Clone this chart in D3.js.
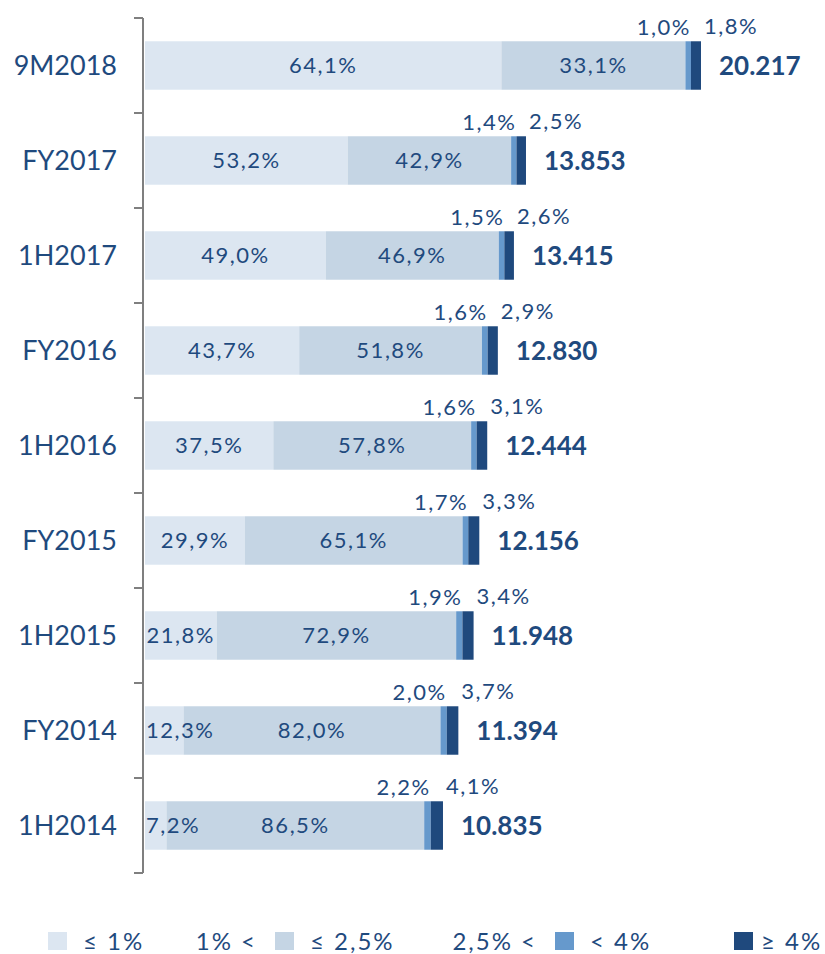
<!DOCTYPE html>
<html lang="en">
<head>
    <meta charset="UTF-8">
    <title>Breakdown by rate bucket</title>
    <script src="https://d3js.org/d3.v7.min.js"></script>
    <style>
        body { margin: 0; background: #fff; }
        svg text { font-family: Lato, "Open Sans", sans-serif; fill: #1f4a7e; }
        .pct { letter-spacing: 1.5px; }
        .legend text { letter-spacing: 2px; }
    </style>
</head>
<body>
<svg id="chart" width="825" height="954"></svg>

<script>
// values
const categories = ['9M2018', 'FY2017', '1H2017', 'FY2016', '1H2016', 'FY2015', '1H2015', 'FY2014', '1H2014'];
const totals = [20217, 13853, 13415, 12830, 12444, 12156, 11948, 11394, 10835];
const upTo1 = [64.1, 53.2, 49.0, 43.7, 37.5, 29.9, 21.8, 12.3, 7.2];
const upTo25 = [33.1, 42.9, 46.9, 51.8, 57.8, 65.1, 72.9, 82.0, 86.5];
const below4 = [1.0, 1.4, 1.5, 1.6, 1.6, 1.7, 1.9, 2.0, 2.2];
const from4 = [1.8, 2.5, 2.6, 2.9, 3.1, 3.3, 3.4, 3.7, 4.1];
const seriesNames = ['≤ 1%', '≤ 2,5%', '< 4%', '≥ 4%'];
const legendPrefix = ['', '1% <', '2,5% <', ''];
const colors = ['#dce6f1', '#c5d5e4', '#6699cc', '#1f497d'];

const svg = d3.select('#chart');
const fmtPct = v => v.toFixed(1).replace('.', ',') + '%';
const fmtTotal = v => d3.format(',')(v).replace(/,/g, '.');

const rows = categories.map((c, i) => {
    const pcts = [upTo1[i], upTo25[i], below4[i], from4[i]];
    let acc = 0;
    const segs = pcts.map((p, k) => {
        const v0 = acc;
        acc += p / 100 * totals[i];
        return { key: k, pct: p, v0: v0, v1: acc };
    });
    return { cat: c, total: totals[i], segs: segs };
});

const x = d3.scaleLinear()
    .domain([0, d3.max(totals)])
    .range([145, 701]);

const y = d3.scaleBand()
    .domain(categories)
    .range([18, 873])
    .paddingInner(0.49)
    .paddingOuter(0.245);

// axis line + ticks between the bands
const axisX = 143;
svg.append('line')
    .attr('x1', axisX).attr('x2', axisX)
    .attr('y1', y.range()[0]).attr('y2', y.range()[1])
    .attr('stroke', '#7f7f7f').attr('stroke-width', 2);

const tickYs = categories.map(c => y(c) - y.step() * y.paddingInner() / 2);
tickYs[0] = y.range()[0];
tickYs.push(y.range()[1]);
svg.selectAll('.tick')
    .data(tickYs)
    .join('line')
    .attr('class', 'tick')
    .attr('x1', axisX - 9).attr('x2', axisX)
    .attr('y1', d => d).attr('y2', d => d)
    .attr('stroke', '#7f7f7f').attr('stroke-width', 2);

// category labels
svg.selectAll('.cat')
    .data(rows)
    .join('text')
    .attr('class', 'cat')
    .attr('x', 117)
    .attr('y', d => y(d.cat) + y.bandwidth() / 2)
    .attr('dy', '0.36em')
    .attr('text-anchor', 'end')
    .style('font-size', '27px')
    .text(d => d.cat);

const g = svg.selectAll('.row')
    .data(rows)
    .join('g')
    .attr('class', 'row');

g.selectAll('rect')
    .data(d => d.segs.map(s => Object.assign({ cat: d.cat }, s)))
    .join('rect')
    .attr('x', d => x(d.v0))
    .attr('y', d => y(d.cat))
    .attr('width', d => x(d.v1) - x(d.v0))
    .attr('height', y.bandwidth())
    .attr('fill', d => colors[d.key]);

// labels inside the two big segments
g.each(function (d) {
    const row = d3.select(this);
    const midY = y(d.cat) + y.bandwidth() / 2;
    d.segs.slice(0, 2).forEach(s => {
        const t = row.append('text')
            .attr('class', 'pct')
            .attr('y', midY)
            .attr('dy', '0.36em')
            .attr('text-anchor', 'middle')
            .style('font-size', '22px')
            .text(fmtPct(s.pct));
        const w = t.node().getComputedTextLength();
        let cx = (x(s.v0) + x(s.v1)) / 2;
        if (s.key === 0) cx = Math.max(cx, x(s.v0) + w / 2 + 1);
        t.attr('x', cx);
    });

    // small segments get their labels above the bar
    const s3 = d.segs[2], s4 = d.segs[3];
    row.append('text')
        .attr('class', 'pct')
        .attr('x', x(s3.v1))
        .attr('y', y(d.cat) - 6)
        .attr('text-anchor', 'end')
        .style('font-size', '22px')
        .text(fmtPct(s3.pct));
    row.append('text')
        .attr('class', 'pct')
        .attr('x', x(s4.v1) + 3)
        .attr('y', y(d.cat) - 7)
        .attr('text-anchor', 'start')
        .style('font-size', '22px')
        .text(fmtPct(s4.pct));

    // total
    row.append('text')
        .attr('x', x(d.total) + 18)
        .attr('y', midY)
        .attr('dy', '0.36em')
        .style('font-size', '26px')
        .style('font-weight', 'bold')
        .text(fmtTotal(d.total));
});

// legend
const legendSquareX = [48, 275, 555, 734];
const legendY = 941;
const lg = svg.selectAll('.legend')
    .data(seriesNames)
    .join('g')
    .attr('class', 'legend');

lg.append('rect')
    .attr('x', (d, i) => legendSquareX[i])
    .attr('y', legendY - 9)
    .attr('width', 19).attr('height', 18)
    .attr('fill', (d, i) => colors[i]);

lg.append('text')
    .attr('x', (d, i) => legendSquareX[i] + (i === 3 ? 27 : 35))
    .attr('y', legendY)
    .attr('dy', '0.36em')
    .style('font-size', '24px')
    .text(d => d);

lg.append('text')
    .attr('x', (d, i) => legendSquareX[i] - 18)
    .attr('y', legendY)
    .attr('dy', '0.36em')
    .attr('text-anchor', 'end')
    .style('font-size', '24px')
    .text((d, i) => legendPrefix[i]);
</script>
</body>
</html>
